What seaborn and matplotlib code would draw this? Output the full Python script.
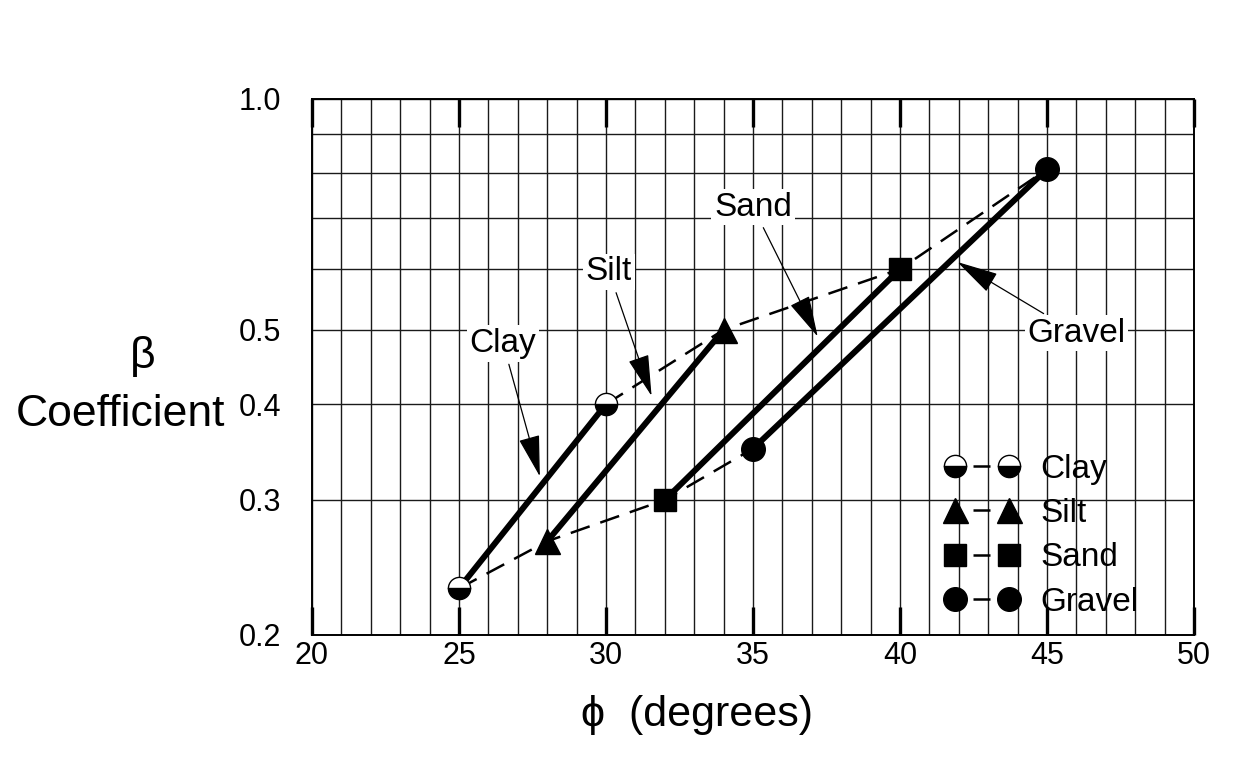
import matplotlib
matplotlib.use("Agg")
import matplotlib.pyplot as plt
import seaborn as sns
import pandas as pd
from matplotlib.lines import Line2D
from matplotlib.ticker import NullFormatter, FixedLocator, FixedFormatter

# ---------------- data ----------------
materials = ["Clay", "Silt", "Sand", "Gravel"]
phi_low = [25, 28, 32, 35]
beta_low = [0.23, 0.265, 0.30, 0.35]
phi_high = [30, 34, 40, 45]
beta_high = [0.40, 0.50, 0.60, 0.81]

x_major = [20, 25, 30, 35, 40, 45, 50]
y_major = [0.2, 0.3, 0.4, 0.5, 1.0]
y_major_labels = ["0.2", "0.3", "0.4", "0.5", "1.0"]
y_minor = [0.6, 0.7, 0.8, 0.9]

# label positions (text xy, arrow tip xy)
label_text_xy = [(26.5, 0.48), (30.1, 0.595), (35.0, 0.723), (46.0, 0.495)]
label_tip_xy = [(27.75, 0.322), (31.55, 0.41), (37.2, 0.49), (41.95, 0.613)]

# ---------------- style ----------------
sns.set_style("white")
plt.rcParams["font.family"] = ["Liberation Sans", "DejaVu Sans"]
plt.rcParams["text.color"] = "black"
plt.rcParams["xtick.color"] = "black"
plt.rcParams["ytick.color"] = "black"
plt.rcParams["xtick.labelcolor"] = "black"
plt.rcParams["ytick.labelcolor"] = "black"

fig = plt.figure(figsize=(12.39, 7.59), dpi=100)
ax = fig.add_axes([312 / 1239, 1 - 635 / 759, (1194 - 312) / 1239, (635 - 99) / 759])

ax.set_yscale("log")
ax.set_xlim(20, 50)
ax.set_ylim(0.2, 1.0)

# ticks / grid
ax.xaxis.set_major_locator(FixedLocator(x_major))
ax.xaxis.set_minor_locator(FixedLocator(list(range(20, 51))))
ax.yaxis.set_major_locator(FixedLocator(y_major))
ax.yaxis.set_major_formatter(FixedFormatter(y_major_labels))
ax.yaxis.set_minor_locator(FixedLocator(y_minor))
ax.yaxis.set_minor_formatter(NullFormatter())
ax.grid(True, which="both", color="#1a1a1a", linewidth=1.0, zorder=0)
ax.set_axisbelow(True)

ax.tick_params(axis="x", which="major", direction="in", top=True, bottom=True,
               length=20, width=2.4, labelsize=22, pad=4, color="black", labelcolor="black")
ax.tick_params(axis="x", which="minor", length=0)
ax.tick_params(axis="y", which="both", length=0, labelsize=22, pad=22, labelcolor="black")
for s in ax.spines.values():
    s.set_color("black")
    s.set_linewidth(1.4)

# dashed connectors (low series & high series)
df_low = pd.DataFrame({"phi": phi_low, "beta": beta_low})
df_high = pd.DataFrame({"phi": phi_high, "beta": beta_high})
for d in (df_low, df_high):
    sns.lineplot(data=d, x="phi", y="beta", ax=ax, color="black", linewidth=1.8,
                 dashes=False, linestyle=(0, (8, 4.5)), zorder=3)

# solid lines per material
for i, m in enumerate(materials):
    dm = pd.DataFrame({"phi": [phi_low[i], phi_high[i]], "beta": [beta_low[i], beta_high[i]]})
    sns.lineplot(data=dm, x="phi", y="beta", ax=ax, color="black", linewidth=4.3,
                 zorder=4, solid_capstyle="butt")

# markers
mstyle = {
    "Clay": dict(marker="o", fillstyle="bottom", markerfacecolor="black",
                 markerfacecoloralt="white", markeredgecolor="black", markersize=16,
                 markeredgewidth=1.0),
    "Silt": dict(marker="^", markerfacecolor="black", markeredgecolor="black", markersize=18),
    "Sand": dict(marker="s", markerfacecolor="black", markeredgecolor="black", markersize=16),
    "Gravel": dict(marker="o", markerfacecolor="black", markeredgecolor="black", markersize=17),
}
for i, m in enumerate(materials):
    ax.plot([phi_low[i], phi_high[i]], [beta_low[i], beta_high[i]], linestyle="none",
            zorder=6, **mstyle[m])

# annotations
for i, m in enumerate(materials):
    ax.annotate(m, xy=label_tip_xy[i], xytext=label_text_xy[i], fontsize=24,
                ha="center", va="center", zorder=8, color="black",
                bbox=dict(facecolor="white", edgecolor="none", pad=2),
                arrowprops=dict(arrowstyle="-|>,head_length=1.1,head_width=0.28",
                                color="black", lw=0.9, shrinkA=2, shrinkB=0))

ax.set_xlabel("")
ax.set_ylabel("")

# legend
handles = [Line2D([], [], color="black", linewidth=1.8,
                  linestyle=(14, (6.8, 14.4)), **mstyle[m]) for m in materials]
leg = ax.legend(handles, materials, loc="upper left", bbox_to_anchor=(0.718, 0.338),
                frameon=False, fontsize=24, numpoints=2, handlelength=2.2,
                handletextpad=0.66, labelspacing=0.40, borderaxespad=0,
                borderpad=0)
for t in leg.get_texts():
    t.set_color("black")
leg.set_zorder(9)

# axis labels
fig.text(697 / 1239, 1 - 715 / 759, "ϕ  (degrees)", fontsize=31, ha="center", va="center")
fig.text(143 / 1239, 1 - 357 / 759, "β", fontsize=32, ha="center", va="center")
fig.text(120 / 1239, 1 - 415 / 759, "Coefficient", fontsize=32, ha="center", va="center")

fig.savefig("out.png", dpi=100)
